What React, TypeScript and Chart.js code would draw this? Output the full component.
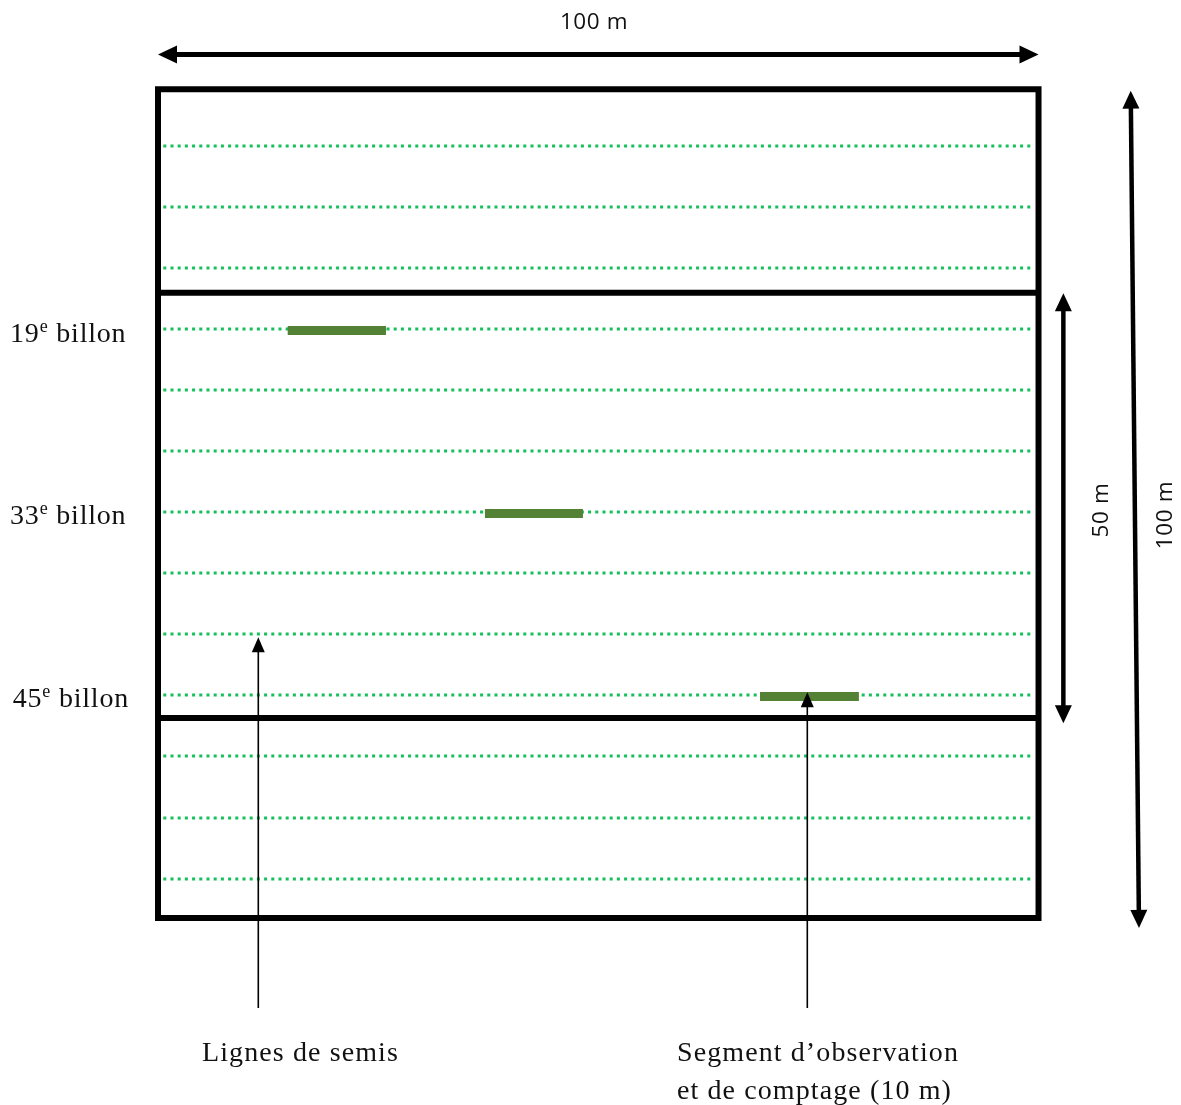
import React, { useEffect, useRef } from "react";
import { Chart, registerables } from "chart.js";

Chart.register(...registerables);

const W = 1181;
const H = 1105;

// ---- Diagram data (field in metres, schematic) ----
const fieldWidth = 100;
const fieldLength = 100;
const blockLimits = [24.55, 75.86]; // central 50 m block
const sowingRows = [6.84, 14.2, 21.56, 28.92, 36.29, 43.65, 51.01, 58.37, 65.74, 73.1, 80.46, 87.94, 95.3];
const rowStart = 0.6;
const rowEnd = 99.3;

const billonNumbers = [19, 33, 45];
const billonRows = [28.92, 51.01, 73.1];
const segmentStart = [14.73, 37.13, 68.37];
const segmentEnd = [25.89, 48.26, 79.6];
const billonLabelX = [-16.8, -16.8, -16.5];
const billonLabelY = [30.49, 52.46, 74.54];

const widthArrowY = -4.2;
const blockArrowX = 102.82;
const blockArrowY = [24.62, 76.5];
const lengthArrowX = [110.47, 111.41];
const lengthArrowY = [0.17, 101.2];
const pointerX = [11.39, 73.74];
const pointerFromY = 110.86;
const pointerToY = [66.13, 72.76];

const dimensionLabels = ["100 m", "50 m", "100 m"];
const dimensionLabelX = [49.52, 107.17, 114.45];
const dimensionLabelY = [-7.28, 50.77, 51.38];

const captionLines = ["Lignes de semis", "Segment d\u2019observation", "et de comptage (10 m)"];
const captionX = [5.0, 58.94, 58.94];
const captionY = [117.26, 117.26, 121.84];

const X_MIN = -17.944;
const X_MAX = 116.18;
const Y_MIN = -10.776;
const Y_MAX = 122.57;

const ROW_GREEN = "#14bf5c";
const SEGMENT_GREEN = "#548235";

const SERIF = "'Liberation Serif', 'Times New Roman', serif";
const SANS = "'Open Sans', 'Noto Sans', sans-serif";

const arrowPlugin = {
  id: "arrowPlugin",
  afterDatasetsDraw(chart: any) {
    const ctx = chart.ctx;
    chart.data.datasets.forEach((ds: any, i: number) => {
      if (!ds.arrow) return;
      const meta = chart.getDatasetMeta(i);
      const p0 = meta.data[0];
      const p1 = meta.data[1];
      const { lw, hl, hw, both } = ds.arrow;
      const dx = p1.x - p0.x;
      const dy = p1.y - p0.y;
      const len = Math.hypot(dx, dy);
      const ux = dx / len;
      const uy = dy / len;
      const sx = both ? p0.x + ux * hl * 0.8 : p0.x;
      const sy = both ? p0.y + uy * hl * 0.8 : p0.y;
      const ex = p1.x - ux * hl * 0.8;
      const ey = p1.y - uy * hl * 0.8;
      ctx.save();
      ctx.strokeStyle = "#000";
      ctx.fillStyle = "#000";
      ctx.lineWidth = lw;
      ctx.lineCap = "butt";
      ctx.beginPath();
      ctx.moveTo(sx, sy);
      ctx.lineTo(ex, ey);
      ctx.stroke();
      const head = (tx: number, ty: number, dirx: number, diry: number) => {
        const bx = tx - dirx * hl;
        const by = ty - diry * hl;
        const nx = -diry;
        const ny = dirx;
        ctx.beginPath();
        ctx.moveTo(tx, ty);
        ctx.lineTo(bx + nx * hw / 2, by + ny * hw / 2);
        ctx.lineTo(bx - nx * hw / 2, by - ny * hw / 2);
        ctx.closePath();
        ctx.fill();
      };
      head(p1.x, p1.y, ux, uy);
      if (both) head(p0.x, p0.y, -ux, -uy);
      ctx.restore();
    });
  },
};

const textPlugin = {
  id: "textPlugin",
  afterDraw(chart: any) {
    const ctx = chart.ctx;
    const xs = chart.scales.x;
    const ys = chart.scales.y;
    ctx.save();
    ctx.fillStyle = "#111";
    ctx.textBaseline = "alphabetic";

    // billon labels with superscript "e"
    billonNumbers.forEach((n, i) => {
      let px = xs.getPixelForValue(billonLabelX[i]);
      const py = ys.getPixelForValue(billonLabelY[i]);
      ctx.textAlign = "left";
      (ctx as any).letterSpacing = "0.8px";
      ctx.font = `28px ${SERIF}`;
      ctx.fillText(String(n), px, py);
      px += ctx.measureText(String(n)).width;
      ctx.font = `18px ${SERIF}`;
      ctx.fillText("e", px, py - 10);
      px += ctx.measureText("e").width;
      ctx.font = `28px ${SERIF}`;
      ctx.fillText(" billon", px, py);
    });

    // captions
    (ctx as any).letterSpacing = "1.1px";
    ctx.font = `28px ${SERIF}`;
    captionLines.forEach((t, i) => {
      ctx.textAlign = "left";
      ctx.fillText(t, xs.getPixelForValue(captionX[i]), ys.getPixelForValue(captionY[i]));
    });

    // dimension labels
    (ctx as any).letterSpacing = "0.6px";
    ctx.font = `22.5px ${SANS}`;
    ctx.textAlign = "center";
    ctx.fillText(dimensionLabels[0], xs.getPixelForValue(dimensionLabelX[0]), ys.getPixelForValue(dimensionLabelY[0]));
    for (let i = 1; i < dimensionLabels.length; i++) {
      ctx.save();
      ctx.translate(xs.getPixelForValue(dimensionLabelX[i]), ys.getPixelForValue(dimensionLabelY[i]));
      ctx.rotate(-Math.PI / 2);
      ctx.textBaseline = "middle";
      ctx.fillText(dimensionLabels[i], 0, 0);
      ctx.restore();
    }
    ctx.restore();
  },
};

export default function App() {
  const ref = useRef<HTMLCanvasElement | null>(null);

  useEffect(() => {
    document.body.style.margin = "0";
    const canvas = ref.current;
    if (!canvas) return;

    const datasets: any[] = [];

    // sowing rows (dotted)
    sowingRows.forEach((y) => {
      datasets.push({
        data: [{ x: rowStart, y }, { x: rowEnd, y }],
        showLine: true,
        borderColor: ROW_GREEN,
        borderWidth: 3,
        borderDash: [3, 4.2],
        pointRadius: 0,
        order: 5,
      });
    });

    // observation segments (drawn above the rows)
    billonRows.forEach((y, i) => {
      datasets.push({
        data: [{ x: segmentStart[i], y: y + 0.18 }, { x: segmentEnd[i], y: y + 0.18 }],
        showLine: true,
        borderColor: SEGMENT_GREEN,
        borderWidth: 9,
        borderCapStyle: "butt",
        pointRadius: 0,
        order: 1,
      });
    });

    // field outline
    datasets.push({
      data: [
        { x: 0, y: 0 },
        { x: fieldWidth, y: 0 },
        { x: fieldWidth, y: fieldLength },
        { x: 0, y: fieldLength },
        { x: 0, y: 0 },
      ],
      showLine: true,
      borderColor: "#000",
      borderWidth: 6,
      borderJoinStyle: "miter",
      borderCapStyle: "square",
      pointRadius: 0,
      order: 0,
    });

    // block dividers
    blockLimits.forEach((y) => {
      datasets.push({
        data: [{ x: 0, y }, { x: fieldWidth, y }],
        showLine: true,
        borderColor: "#000",
        borderWidth: 6,
        pointRadius: 0,
        order: 0,
      });
    });

    // arrows (drawn by plugin from the library's element positions)
    const arrowDs = (pts: { x: number; y: number }[], arrow: any) => ({
      data: pts,
      showLine: false,
      pointRadius: 0,
      borderColor: "transparent",
      arrow,
    });
    datasets.push(arrowDs([{ x: 0, y: widthArrowY }, { x: fieldWidth, y: widthArrowY }], { lw: 5, hl: 19, hw: 18, both: true }));
    datasets.push(arrowDs([{ x: blockArrowX, y: blockArrowY[0] }, { x: blockArrowX, y: blockArrowY[1] }], { lw: 4.5, hl: 18, hw: 17, both: true }));
    datasets.push(arrowDs([{ x: lengthArrowX[0], y: lengthArrowY[0] }, { x: lengthArrowX[1], y: lengthArrowY[1] }], { lw: 4.5, hl: 18, hw: 17, both: true }));
    pointerX.forEach((x, i) => {
      datasets.push(arrowDs([{ x, y: pointerFromY }, { x, y: pointerToY[i] }], { lw: 1.6, hl: 15, hw: 13, both: false }));
    });

    const chart = new Chart(canvas, {
      type: "scatter",
      data: { datasets },
      options: {
        responsive: false,
        animation: false,
        devicePixelRatio: 1,
        events: [],
        layout: { padding: 0 },
        plugins: { legend: { display: false }, tooltip: { enabled: false }, title: { display: false } },
        scales: {
          x: { type: "linear", min: X_MIN, max: X_MAX, display: false },
          y: { type: "linear", min: Y_MIN, max: Y_MAX, reverse: true, display: false },
        },
      },
      plugins: [arrowPlugin, textPlugin],
    } as any);

    return () => chart.destroy();
  }, []);

  return (
    <div style={{ position: "absolute", left: 0, top: 0, width: W, height: H, background: "#fff" }}>
      <canvas ref={ref} width={W} height={H} style={{ width: W, height: H, display: "block" }} />
    </div>
  );
}
